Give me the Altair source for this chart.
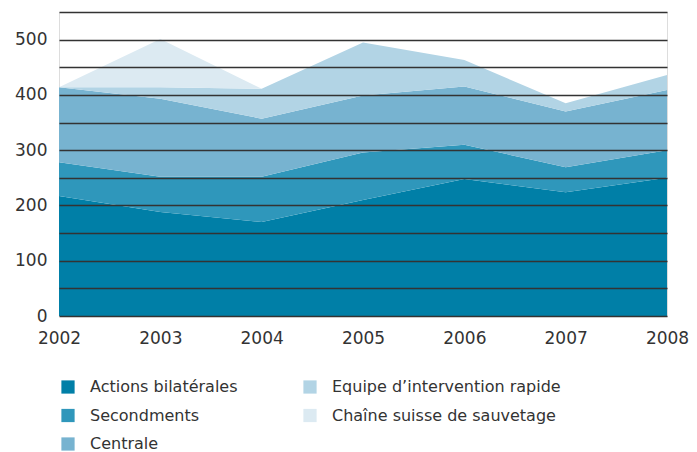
import altair as alt
import pandas as pd

years = [2002, 2003, 2004, 2005, 2006, 2007, 2008]
actions = [217, 188, 170, 210, 248, 224, 250]
secondments = [61, 64, 82, 86, 62, 45, 50]
centrale = [136, 141, 105, 103, 105, 101, 109]
equipe = [0, 21, 54, 96, 48, 15, 27]
chaine = [0, 87, 0, 0, 0, 0, 0]

series_names = ["Actions bilatérales", "Secondments", "Centrale",
                "Equipe d’intervention rapide", "Chaîne suisse de sauvetage"]
series_values = [actions, secondments, centrale, equipe, chaine]
series_colors = ["#007FA7", "#2F97BB", "#77B3D0", "#B2D4E5", "#DCEAF2"]

rows = []
for i, (name, vals) in enumerate(zip(series_names, series_values)):
    for y, v in zip(years, vals):
        rows.append({"year": y, "value": v, "series": name, "ord": i})
df = pd.DataFrame(rows)

FONT = "DejaVu Sans"

chart = alt.Chart(df).mark_area(opacity=1, interpolate="linear").encode(
    x=alt.X("year:Q",
            scale=alt.Scale(domain=[2002, 2008], nice=False, zero=False),
            axis=alt.Axis(values=years, format="d", title=None, grid=False,
                          domain=False, ticks=False, labelPadding=14,
                          labelFontSize=17, labelColor="#333333",
                          labelFont=FONT, labelFlush=False)),
    y=alt.Y("value:Q", stack="zero",
            scale=alt.Scale(domain=[0, 550], nice=False),
            axis=alt.Axis(values=list(range(0, 551, 50)), title=None,
                          labelExpr="datum.value % 100 == 0 && datum.value < 550 ? datum.label : ''",
                          grid=True, gridColor="#333333", gridWidth=1.4,
                          gridOpacity=1, domain=False, ticks=False,
                          labelPadding=12, labelFontSize=17,
                          labelColor="#333333", labelFont=FONT, zindex=1)),
    color=alt.Color("series:N",
                    scale=alt.Scale(domain=series_names, range=series_colors),
                    legend=alt.Legend(title=None, orient="none",
                                      legendX=1, legendY=367, columns=2,
                                      columnPadding=64, rowPadding=12.5,
                                      symbolType="square", symbolSize=175,
                                      symbolStrokeWidth=0, symbolOpacity=1,
                                      labelFontSize=16, labelFont=FONT,
                                      labelColor="#333333", labelOffset=14,
                                      labelLimit=300)),
    order=alt.Order("ord:Q", sort="ascending"),
).properties(width=608, height=304).configure_view(stroke=None).configure(
    padding={"left": 6, "top": 4, "right": 0, "bottom": 0}
)

chart.save("out.html", embed_options={"renderer": "svg", "actions": False})
